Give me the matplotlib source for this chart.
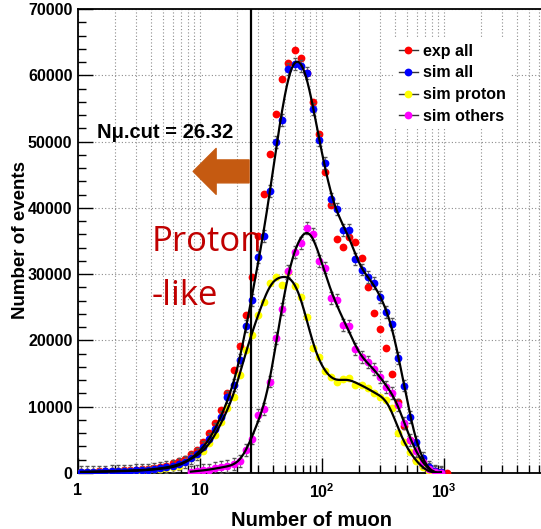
import numpy as np
import matplotlib.pyplot as plt
from matplotlib.lines import Line2D
from matplotlib.ticker import LogLocator, MultipleLocator, NullFormatter, FixedLocator, FixedFormatter

plt.rcParams["font.family"] = ["Liberation Sans", "DejaVu Sans"]
plt.rcParams["mathtext.fontset"] = "custom"
plt.rcParams["mathtext.rm"] = "Liberation Sans"
plt.rcParams["mathtext.bf"] = "Liberation Sans:bold"

RED, BLUE, YELLOW, MAGENTA = "#ff0000", "#0000ff", "#ffff00", "#ff00ff"
ARROW = "#c55a11"
DARKRED = "#c00000"
GRID = "#8c8c8c"

# muon-number bins: 20 per decade, log spaced
edges = np.logspace(0, 3.05, 62)
centers = np.sqrt(edges[:-1] * edges[1:])
nan = np.nan

NMU_CUT = 26.32

exp_all = [150, 200, 200, 250, 250, 300, 350, 400, 450, 500,
           600, 650, 800, 950, 1100, 1450, 1800, 2100, 2850, 3450,
           4700, 6000, 7500, 9500, 12100, 15500, 19200, 23900, 29500, 35700,
           42100, 48100, 54100, 59400, 61900, 63800, 62600, 60300, 55900, 51100,
           45400, 40400, 35300, 34100, 35600, 34900, 32400, 28100, 24200, 21700,
           18800, 15000, 10700, 7100, 5000, 2000, 1000, 500, 250, 100,
           30]
sim_all = [150, 170, 200, 220, 230, 270, 280, 330, 350, 400,
           450, 500, 600, 700, 850, 1050, 1300, 1700, 2200, 2900,
           3900, 5200, 6700, 8500, 11500, 13300, 17000, 22200, 26100, 32600,
           35700, 42500, 49900, 53300, 61000, 61700, 61400, 60400, 54900, 50200,
           46700, 41300, 39800, 36700, 36700, 32300, 30700, 29600, 28600, 26600,
           24300, 22500, 17400, 13200, 8500, 4700, 2300, 900, 300, 100,
           nan]
sim_proton = [150, 150, 200, 200, 200, 250, 250, 300, 300, 350,
              400, 450, 550, 650, 750, 900, 1100, 1600, 2200, 2700,
              3300, 4500, 5700, 7700, 9800, 11500, 14800, 18500, 20800, 23800,
              25800, 28600, 29600, 28400, 30300, 28200, 26500, 23600, 18800, 17500,
              15400, 14500, 13800, 14200, 14400, 13300, 13300, 12800, 12000, 11500,
              11000, 9800, 6000, 4700, 3200, 1800, 900, 300, 100, nan,
              nan]
sim_others = [nan, nan, nan, nan, nan, nan, nan, nan, nan, nan,
              nan, nan, nan, nan, nan, nan, nan, nan, 200, 300,
              400, 500, 700, 850, 1100, 1400, 1800, 3500, 5200, 8700,
              9700, 13800, 20300, 24800, 30500, 33400, 34700, 36900, 36000, 32000,
              31000, 26400, 26100, 22300, 22200, 18700, 17500, 16700, 15700, 14500,
              13000, 12000, 10300, 7500, 5000, 3300, 1700, 600, 200, 50,
              nan]
SIM_ERR = 900


def smooth_fit(x, y, bw=0.075, n=400):
    """Local quadratic regression in log10(x); returns a smooth curve."""
    x = np.asarray(x, float)
    y = np.asarray(y, float)
    ok = ~np.isnan(y)
    lx, y = np.log10(x[ok]), y[ok]
    grid = np.linspace(lx.min(), lx.max(), n)
    out = np.empty(n)
    for i, g in enumerate(grid):
        w = np.exp(-0.5 * ((lx - g) / bw) ** 2)
        c = np.polyfit(lx - g, y, 2, w=np.sqrt(w))
        out[i] = c[-1]
    return 10 ** grid, np.clip(out, 0, None)


fig = plt.figure(figsize=(5.41, 5.29), dpi=100)
ax = fig.add_axes([78 / 541, 56 / 529, 469 / 541, 464 / 529])
ax.set_xscale("log")
ax.set_xlim(1, 7000)
ax.set_ylim(0, 70000)

# ROOT-like dotted grid
ax.grid(axis="x", which="both", ls=(0, (1, 2)), color=GRID, lw=0.8, zorder=0)
ax.grid(axis="y", which="major", ls=(0, (1, 2)), color=GRID, lw=0.8, zorder=0)
ax.set_axisbelow(True)

ms = 5.6
ax.plot(centers, exp_all, "o", color=RED, ms=ms, mec="none", zorder=3)
ax.errorbar(centers, sim_all, yerr=SIM_ERR, fmt="o", color=BLUE, ms=ms,
            mec="none", ecolor="#555555", elinewidth=0.6, capsize=1.5, zorder=3)
ax.plot(centers, sim_proton, "o", color=YELLOW, ms=ms, mec="none", zorder=3)
ax.errorbar(centers, sim_others, yerr=SIM_ERR, fmt="o", color=MAGENTA, ms=ms,
            mec="none", ecolor="#555555", elinewidth=0.6, capsize=1.5, zorder=3)

for series in (sim_all, sim_proton, sim_others):
    fx, fy = smooth_fit(centers, series)
    ax.plot(fx, fy, color="black", lw=1.6, zorder=4)

# cut position and proton-like side
ax.axvline(NMU_CUT, color="black", lw=1.6, zorder=5)
ax.annotate("", xy=(8.8, 45500), xytext=(NMU_CUT * 0.96, 45500),
            arrowprops=dict(arrowstyle="simple,head_length=0.5,head_width=1.0,tail_width=0.5",
                            color=ARROW, mutation_scale=33, shrinkA=0, shrinkB=0),
            zorder=6)
ax.text(0.041, 0.733, "N\u03bc.cut = 26.32", transform=ax.transAxes,
        ha="left", va="center", fontsize=14.5, fontweight="bold", zorder=6)
ax.text(0.157, 0.478, "Proton", transform=ax.transAxes, ha="left", va="baseline",
        fontsize=25, color=DARKRED, family="Open Sans", zorder=7)
ax.text(0.157, 0.362, "-like", transform=ax.transAxes, ha="left", va="baseline",
        fontsize=25, color=DARKRED, family="Open Sans", zorder=7)

# axes, ticks
ax.xaxis.set_major_locator(FixedLocator([1, 10, 100, 1000]))
ax.xaxis.set_major_formatter(FixedFormatter(["1", "10", r"$\mathbf{10^{2}}$", r"$\mathbf{10^{3}}$"]))
ax.xaxis.set_minor_locator(LogLocator(base=10, subs=np.arange(2, 10), numticks=20))
ax.xaxis.set_minor_formatter(NullFormatter())
ax.yaxis.set_major_locator(MultipleLocator(10000))
ax.yaxis.set_minor_locator(MultipleLocator(2000))
ax.tick_params(which="both", direction="in", colors="black", width=1.0)
ax.tick_params(which="major", length=11, labelsize=11.5, pad=4)
ax.tick_params(which="minor", length=6)
ax.tick_params(axis="x", which="major", pad=7)
for lab in ax.get_xticklabels() + ax.get_yticklabels():
    lab.set_fontweight("bold")
for s in ax.spines.values():
    s.set_linewidth(1.3)

ax.set_xlabel("Number of muon", fontsize=14.5, fontweight="bold")
ax.set_ylabel("Number of events", fontsize=13.5, fontweight="bold")
ax.xaxis.set_label_coords(0.497, -0.081)
ax.yaxis.set_label_coords(-0.105, 0.502)

handles = [Line2D([], [], color="#333333", lw=1.0, marker="o", ms=ms,
                  mfc=c, mec="none") for c in (RED, BLUE, YELLOW, MAGENTA)]
leg = fig.legend(handles, ["exp all", "sim all", "sim proton", "sim others"],
                 loc="upper left", bbox_to_anchor=(386 / 541, 1 - 31 / 529),
                 frameon=True, facecolor="white", edgecolor="none", framealpha=1,
                 fancybox=False, handlelength=1.2, handletextpad=0.3,
                 labelspacing=0.42, borderpad=0.3,
                 prop={"family": "Liberation Sans", "weight": "bold", "size": 11.5})
leg.set_zorder(10)

fig.savefig("out.png", dpi=100, facecolor="white")
